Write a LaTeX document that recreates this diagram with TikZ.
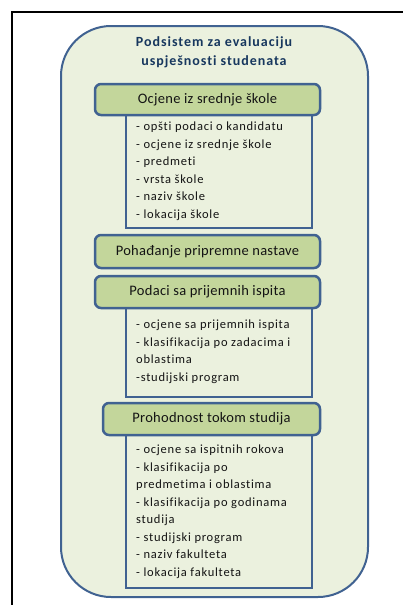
\documentclass[tikz,border=0pt]{standalone}
\usepackage{fontspec}
\setmainfont{Carlito}
\newfontfamily\listfont[LetterSpace=6,Ligatures=NoCommon]{Carlito}
\newfontfamily\headfont[LetterSpace=2,Ligatures=NoCommon]{Carlito}
\newfontfamily\titlefont[LetterSpace=6.8,Ligatures=NoCommon]{Carlito}
\definecolor{outerfill}{RGB}{235,241,222}
\definecolor{bordblue}{RGB}{64,98,145}
\definecolor{headfill}{RGB}{195,214,155}
\definecolor{titlecol}{RGB}{23,55,94}
\definecolor{txtcol}{RGB}{20,20,20}
\tikzset{
  outerbox/.style={draw=bordblue, line width=2pt, fill=outerfill, rounded corners=50pt, inner sep=0pt},
  headbox/.style={draw=bordblue, line width=2.5pt, fill=headfill, rounded corners=6pt, inner sep=0pt, font=\headfont\fontsize{14.5}{16}\selectfont, text=txtcol},
  listbox/.style={draw=bordblue, line width=2pt, fill=outerfill, inner sep=0pt, minimum width=186pt},
  item/.style={anchor=base west, inner sep=0pt, font=\listfont\fontsize{12.5}{14}\selectfont, text=txtcol},
  titletxt/.style={inner sep=0pt, font=\titlefont\fontsize{14}{15}\selectfont\bfseries, text=titlecol}
}
\begin{document}
\begin{tikzpicture}[x=1pt,y=-1pt]
\useasboundingbox (0,0) rectangle (403,605);
\fill[white] (0,0) rectangle (403,605);
\coordinate (fr1) at (403,11.5);
\coordinate (fr2) at (11.5,11.5);
\coordinate (fr3) at (11.5,605);
\draw[black, line width=2pt] (fr1) -- (fr2) -- (fr3);
\node[outerbox, minimum width=307pt, minimum height=571pt] (outer) at (214.5,311.5) {};
\node[titletxt, anchor=base] (t1) at (214,46.5) {Podsistem za evaluaciju};
\node[titletxt, anchor=base] (t2) at (214,65.5) {uspješnosti studenata};
% lists
\node[listbox, minimum height=113pt] (list1) at (219,171.5) {};
\node[listbox, minimum height=89pt] (list3) at (219,352.5) {};
\node[listbox, minimum height=153pt] (list4) at (219,511.5) {};
% headers
\node[headbox, minimum width=225pt, minimum height=31pt] (h1) at (207.5,99.5) {Ocjene iz srednje škole};
\node[headbox, minimum width=225pt, minimum height=33pt] (h2) at (207.5,251.5) {Pohađanje pripremne nastave};
\node[headbox, minimum width=225pt, minimum height=32pt] (h3) at (207.5,292) {Podaci sa prijemnih ispita};
\node[headbox, minimum width=217pt, minimum height=32pt] (h4) at (211.5,419) {Prohodnost tokom studija};
% list texts
\foreach \t [count=\i from 0] in {- opšti podaci  o kandidatu, - ocjene iz srednje škole, - predmeti, - vrsta  škole, - naziv  škole, - lokacija  škole}
  \node[item] (a\i) at (136,130.5+17.5*\i) {\t};
\foreach \t [count=\i from 0] in {- ocjene sa prijemnih ispita, - klasifikacija  po zadacima i, oblastima, -studijski program}
  \node[item] (b\i) at (136,328.5+17.5*\i) {\t};
\foreach \t [count=\i from 0] in {- ocjene sa ispitnih  rokova, - klasifikacija  po, predmetima i oblastima, - klasifikacija  po godinama, studija, - studijski program, - naziv  fakulteta, - lokacija  fakulteta}
  \node[item] (c\i) at (136,453.5+17.5*\i) {\t};
\end{tikzpicture}
\end{document}
